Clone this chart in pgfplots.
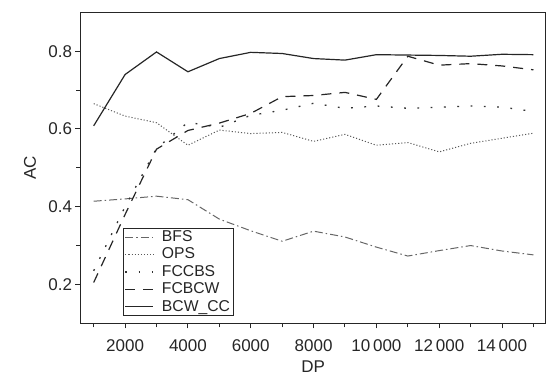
\documentclass[border=0pt]{standalone}
\usepackage{fontspec}
\setmainfont{Liberation Sans}
\usepackage{pgfplots}
\pgfplotsset{compat=1.18}
\begin{document}
\begin{tikzpicture}
\path (-80.5pt,-50.7pt) rectangle (467.5pt,323.3pt);
\begin{axis}[
  at={(0pt,0pt)}, anchor=south west,
  width=465.2pt, height=311pt, scale only axis,
  xmin=580, xmax=15390, ymin=0.1, ymax=0.9,
  scaled x ticks=false, scaled y ticks=false,
  axis line style={line width=1.1pt, black!85},
  tick pos=left, tick align=outside,
  major tick length=5pt, minor tick length=4pt,
  every tick/.style={line width=1pt, black!85},
  xtick={2000,4000,6000,8000,10000,12000,14000},
  xticklabels={2000,4000,6000,8000,10\,000,12\,000,14\,000},
  minor xtick={1000,3000,5000,7000,9000,11000,13000,15000},
  ytick={0.2,0.4,0.6,0.8},
  yticklabels={0.2,0.4,0.6,0.8},
  minor ytick={0.3,0.5,0.7},
  tick label style={font=\fontsize{17}{20}\selectfont, text=black!85},
  xticklabel style={yshift=-8pt},
  xlabel={DP}, ylabel={AC},
  label style={font=\fontsize{17}{20}\selectfont, text=black!85},
  xlabel style={at={(axis description cs:0.5,-0.1405)}, anchor=center},
  ylabel style={at={(axis description cs:-0.1086,0.5)}, anchor=center},
  legend cell align=left,
  legend image code/.code={\draw[#1] (0pt,0pt) -- (28pt,0pt);},
  legend style={at={(0.0907,0.0235)}, anchor=south west, draw=black!85, line width=1pt,
    inner xsep=1.5pt, inner ysep=0pt, column sep=6pt, row sep=0pt,
    font=\fontsize{15.7}{18}\selectfont, text=black!85,
    nodes={inner xsep=2pt, inner ysep=1.45pt, text height=11.5pt, text depth=3pt}},
]
\addplot[black!60, line width=1pt, dash pattern=on 8pt off 3pt on 1.5pt off 3pt] coordinates {
(1000,0.414) (2000,0.420) (3000,0.427) (4000,0.418) (5000,0.368) (6000,0.338) (7000,0.311)
(8000,0.337) (9000,0.322) (10000,0.296) (11000,0.273) (12000,0.287) (13000,0.300) (14000,0.286) (15000,0.276)};
\addlegendentry{BFS}
\addplot[black!65, line width=1pt, dash pattern=on 1.1pt off 2pt] coordinates {
(1000,0.665) (2000,0.633) (3000,0.616) (4000,0.558) (5000,0.597) (6000,0.588) (7000,0.591)
(8000,0.568) (9000,0.586) (10000,0.558) (11000,0.565) (12000,0.541) (13000,0.563) (14000,0.576) (15000,0.589)};
\addlegendentry{OPS}
\addplot[black!80, line width=1.3pt, dash pattern=on 1.8pt off 11.5pt] coordinates {
(1000,0.235) (2000,0.400) (3000,0.550) (4000,0.617) (5000,0.604) (6000,0.635) (7000,0.648)
(8000,0.666) (9000,0.653) (10000,0.659) (11000,0.653) (12000,0.656) (13000,0.659) (14000,0.656) (15000,0.645)};
\addlegendentry{FCCBS}
\addplot[black!85, line width=1.2pt, dash pattern=on 10pt off 8pt] coordinates {
(1000,0.205) (2000,0.380) (3000,0.548) (4000,0.596) (5000,0.615) (6000,0.640) (7000,0.683)
(8000,0.686) (9000,0.694) (10000,0.676) (11000,0.787) (12000,0.764) (13000,0.768) (14000,0.762) (15000,0.752)};
\addlegendentry{FCBCW}
\addplot[black!85, line width=1.2pt] coordinates {
(1000,0.608) (2000,0.740) (3000,0.798) (4000,0.747) (5000,0.781) (6000,0.797) (7000,0.794)
(8000,0.781) (9000,0.777) (10000,0.791) (11000,0.790) (12000,0.789) (13000,0.787) (14000,0.792) (15000,0.791)};
\addlegendentry{BCW\_CC}
\end{axis}
\end{tikzpicture}
\end{document}
